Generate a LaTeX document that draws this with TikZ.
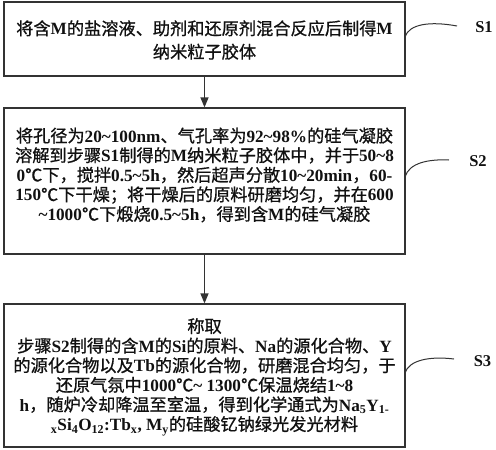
\documentclass[tikz,border=0pt]{standalone}
\usepackage{fontspec}
\setmainfont{Liberation Serif}
\newfontfamily\cjk[FakeBold=0.8]{Noto Sans CJK SC}
\usetikzlibrary{arrows.meta}
\newcommand\Lx[1]{{\rmfamily\bfseries #1}}
\newcommand\Tld{\textasciitilde}
\definecolor{ink}{HTML}{111111}
\definecolor{edge}{HTML}{333333}
\tikzset{
  box/.style={draw=edge, line width=1.2pt, minimum width=401pt, inner sep=0pt},
  txt/.style={text=ink, align=center, inner sep=0pt, font=\cjk\fontsize{17.2}{19.6}\selectfont},
  arr/.style={draw=edge, line width=1.2pt, -{Triangle[width=8pt,length=10pt]}},
  lead/.style={draw=edge, line width=1pt},
  lab/.style={text=ink, inner sep=0pt, font=\rmfamily\bfseries\fontsize{16.5}{18}\selectfont}
}
\begin{document}
\begin{tikzpicture}[x=1pt,y=-1pt]
\useasboundingbox (0,0) rectangle (496,450);
\fill[white] (0,0) rectangle (496,450);
% boxes
\node[box, minimum height=74pt] (b1) at (204.5,39) {};
\node[box, minimum height=146pt] (b2) at (204.5,181) {};
\node[box, minimum height=143pt] (b3) at (204.5,375.5) {};
% texts
\node[txt, font=\cjk\fontsize{17.2}{23.4}\selectfont] (t1) at (204.5,40) {将含\Lx{M}的盐溶液、助剂和还原剂混合反应后制得\Lx{M}\\纳米粒子胶体};
\node[txt] (t2) at (204.5,175) {将孔径为\Lx{20\Tld100nm}、气孔率为\Lx{92\Tld98\%}的硅气凝胶\\
溶解到步骤\Lx{S1}制得的\Lx{M}纳米粒子胶体中，并于\Lx{50\Tld8}\\
\Lx{0}℃下，搅拌\Lx{0.5\Tld5h}，然后超声分散\Lx{10\Tld20min}，\Lx{60-}\\
\Lx{150}℃下干燥；将干燥后的原料研磨均匀，并在\Lx{600}\\
\Lx{\Tld1000}℃下煅烧\Lx{0.5\Tld5h}，得到含\Lx{M}的硅气凝胶};
\node[txt] (t3) at (204.5,377) {称取\\
步骤\Lx{S2}制得的含\Lx{M}的\Lx{Si}的原料、\Lx{Na}的源化合物、\Lx{Y}\\
的源化合物以及\Lx{Tb}的源化合物，研磨混合均匀，于\\
还原气氛中\Lx{1000}℃\Lx{\Tld{} 1300}℃保温烧结\Lx{1\Tld8}\\
\Lx{h}，随炉冷却降温至室温，得到化学通式为\Lx{Na\textsubscript{5}Y\textsubscript{1-}}\\
\Lx{\textsubscript{x}Si\textsubscript{4}O\textsubscript{12}:Tb\textsubscript{x}, M\textsubscript{y}}的硅酸钇钠绿光发光材料};
% arrows
\draw[arr] (b1.south) -- (b2.north);
\draw[arr] (b2.south) -- (b3.north);
% step labels
\node[lab] (s1) at (484,27) {S1};
\node[lab] (s2) at (478,161) {S2};
\node[lab] (s3) at (482.5,361) {S3};
\coordinate (c1) at (405,37);
\coordinate (e1) at (457,26);
\coordinate (c2) at (405,177);
\coordinate (e2) at (449,160);
\coordinate (c3) at (405,373);
\coordinate (e3) at (454,359);
\draw[lead] (c1) .. controls (409,24) and (430,21) .. (e1);
\draw[lead] (c2) .. controls (409,163) and (428,159) .. (e2);
\draw[lead] (c3) .. controls (409,360) and (430,356) .. (e3);
\end{tikzpicture}
\end{document}
